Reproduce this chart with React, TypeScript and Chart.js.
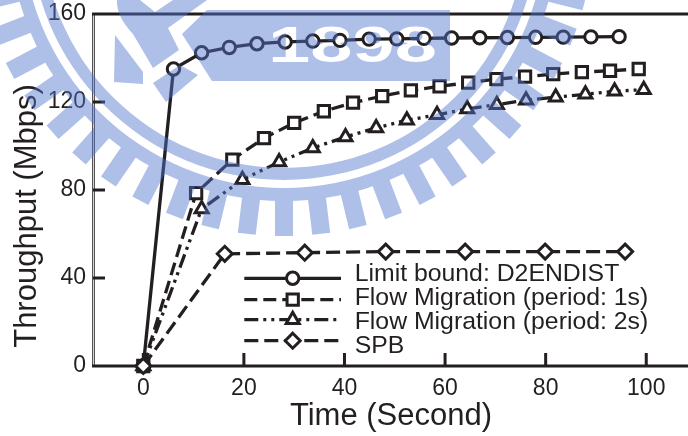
import React, { useEffect, useRef } from "react";
import { Chart, registerables } from "chart.js";

Chart.register(...registerables);

const xTickValues = [0, 20, 40, 60, 80, 100];
const yTickValues = [0, 40, 80, 120, 160];
const xTitle = "Time (Second)";
const yTitle = "Throughput (Mbps)";
const seriesNames = [
  "Limit bound: D2ENDIST",
  "Flow Migration (period: 1s)",
  "Flow Migration (period: 2s)",
  "SPB",
];

const limitX = [0, 6, 11.6, 17.1, 22.6, 28.2, 33.7, 39.1, 44.9, 50.4, 55.8, 61.3, 66.9, 72.4, 78, 83.5, 89, 94.6];
const limitY = [0, 135, 142.4, 144.8, 146.5, 147.3, 147.7, 148, 148.6, 148.7, 148.9, 149.1, 149.2, 149.3, 149.4, 149.5, 149.6, 149.7];
const flow1X = [0, 10.5, 17.7, 24, 30, 35.9, 41.7, 47.5, 53.2, 58.9, 64.6, 70.2, 75.9, 81.5, 87.2, 92.8, 98.5];
const flow1Y = [0, 78.6, 93.8, 103.6, 110.5, 115.8, 119.7, 122.7, 125.3, 127.1, 128.8, 130.4, 131.5, 132.7, 133.6, 134.2, 135];
const flow2X = [0, 11.6, 19.7, 27, 33.7, 40.2, 46.3, 52.4, 58.4, 64.4, 70.3, 76.1, 82, 87.9, 93.7, 99.5];
const flow2Y = [0, 71.4, 84.7, 92.7, 99.1, 104.1, 108.2, 111.7, 114.2, 116.8, 118.8, 120.8, 122.2, 123.5, 124.9, 125.6];
const spbX = [0, 16.2, 32.1, 48.2, 64, 79.9, 95.8];
const spbY = [0, 51, 51.5, 52, 52, 52, 52];

const INK = "#231f20";
const FONT = '"Liberation Sans", Arial, sans-serif';

const pts = (xs: number[], ys: number[]) => xs.map((x, i) => ({ x, y: ys[i] }));

function paintEmblem(ctx: CanvasRenderingContext2D) {
  const cx = 284;
  const cy = -74;
  const c = document.createElement("canvas");
  c.width = ctx.canvas.width;
  c.height = ctx.canvas.height;
  const g = c.getContext("2d")!;
  g.fillStyle = "rgb(80,115,205)";
  g.strokeStyle = "rgb(80,115,205)";

  const ring = (a: number, b: number) => {
    g.beginPath();
    g.arc(cx, cy, b, 0, Math.PI * 2);
    g.arc(cx, cy, a, 0, Math.PI * 2, true);
    g.fill();
  };
  ring(242, 254);
  ring(262, 275);

  for (let k = -17; k <= 17; k++) {
    g.save();
    g.translate(cx, cy);
    g.rotate((k * 6.9 * Math.PI) / 180);
    g.fillRect(-9, 274, 18, 36);
    g.restore();
  }

  const poly = (p: number[][]) => {
    g.beginPath();
    p.forEach(([x, y], i) => (i ? g.lineTo(x, y) : g.moveTo(x, y)));
    g.closePath();
    g.fill();
  };
  // banner
  poly([[182, 34], [207, 10], [450, 10], [450, 81], [212, 81]]);
  // shield top
  g.beginPath();
  g.moveTo(117, 0);
  g.quadraticCurveTo(116, 16, 133, 34);
  g.lineTo(153, 68);
  g.lineTo(179, 50);
  g.lineTo(168, 28);
  g.lineTo(207, 0);
  g.lineTo(173, 0);
  g.lineTo(155, 12);
  g.lineTo(140, 0);
  g.closePath();
  g.fill();
  // side pieces
  poly([[115, 35], [143, 72], [143, 84], [114, 82]]);
  poly([[153, 83], [180, 65], [198, 75], [166, 102]]);

  // white year in the banner
  g.save();
  g.globalCompositeOperation = "destination-out";
  g.fillStyle = "#000";
  g.font = `bold 50px ${FONT}`;
  g.textBaseline = "alphabetic";
  g.translate(268, 62);
  g.scale(1.52, 1);
  g.fillText("1898", 0, 0);
  g.restore();

  ctx.save();
  ctx.globalAlpha = 0.46;
  ctx.drawImage(c, 0, 0);
  ctx.restore();
}

const framePlugin = {
  id: "frame",
  beforeDatasetsDraw(chart: any) {
    const { ctx, chartArea: a, scales } = chart;
    ctx.save();
    const h = a.bottom - a.top;
    ctx.fillStyle = "#555354";
    ctx.fillRect(a.left - 1, a.top, 1, h);
    ctx.fillRect(a.left + 1, a.top, 1, h);
    ctx.fillStyle = "#d4d4d4";
    ctx.fillRect(a.left, a.top, 1, h);

    ctx.strokeStyle = INK;
    ctx.lineWidth = 3;
    ctx.beginPath();
    ctx.moveTo(a.left - 1, a.top);
    ctx.lineTo(a.right, a.top);
    ctx.moveTo(a.left - 1, a.bottom);
    ctx.lineTo(a.right, a.bottom);
    xTickValues.forEach((v) => {
      const x = scales.x.getPixelForValue(v);
      ctx.moveTo(x, a.bottom);
      ctx.lineTo(x, a.bottom - 13);
    });
    yTickValues.slice(1, -1).forEach((v) => {
      const y = scales.y.getPixelForValue(v);
      ctx.moveTo(a.left, y);
      ctx.lineTo(a.left + 12, y);
    });
    ctx.stroke();

    ctx.fillStyle = INK;
    ctx.font = `31px ${FONT}`;
    ctx.textAlign = "center";
    ctx.textBaseline = "middle";
    ctx.fillText(xTitle, 391, 416);
    ctx.translate(27, 216);
    ctx.rotate(-Math.PI / 2);
    ctx.fillText(yTitle, 0, 0);
    ctx.restore();
  },
  afterDatasetsDraw(chart: any) {
    const { ctx } = chart;
    const rowsLine = [278.3, 299.7, 319.7, 340.7];
    const rowsText = [274.5, 298.5, 322.5, 346.5];
    chart.data.datasets.forEach((d: any, i: number) => {
      ctx.save();
      ctx.strokeStyle = d.borderColor;
      ctx.lineWidth = d.borderWidth;
      ctx.setLineDash(d.borderDash || []);
      ctx.beginPath();
      ctx.moveTo(244.3, rowsLine[i]);
      ctx.lineTo(341, rowsLine[i]);
      ctx.stroke();
      ctx.setLineDash([]);
      ctx.fillStyle = "#fff";
      ctx.strokeStyle = d.pointBorderColor;
      ctx.lineWidth = d.pointBorderWidth;
      const r = d.pointRadius;
      const x = 292.7;
      const y = rowsLine[i];
      ctx.beginPath();
      if (d.pointStyle === "circle") ctx.arc(x, y, r, 0, Math.PI * 2);
      else if (d.pointStyle === "rect") {
        const s = r * Math.SQRT1_2;
        ctx.rect(x - s, y - s, 2 * s, 2 * s);
      } else if (d.pointStyle === "triangle") {
        ctx.moveTo(x, y - r);
        ctx.lineTo(x + r * 0.866, y + r / 2);
        ctx.lineTo(x - r * 0.866, y + r / 2);
        ctx.closePath();
      } else {
        ctx.moveTo(x, y - r);
        ctx.lineTo(x + r, y);
        ctx.lineTo(x, y + r);
        ctx.lineTo(x - r, y);
        ctx.closePath();
      }
      ctx.fill();
      ctx.stroke();
      ctx.fillStyle = INK;
      ctx.font = `24.8px ${FONT}`;
      ctx.textAlign = "left";
      ctx.textBaseline = "middle";
      ctx.fillText(seriesNames[i], 354.7, rowsText[i]);
      ctx.restore();
    });
  },
  afterDraw(chart: any) {
    paintEmblem(chart.ctx);
  },
};

const styleOf = (pointStyle: string, radius: number, dash: number[], order: number) => ({
  borderColor: INK,
  borderWidth: 3.3,
  borderDash: dash,
  pointStyle,
  pointRadius: radius,
  pointBorderColor: INK,
  pointBorderWidth: 3,
  pointBackgroundColor: "#ffffff",
  tension: 0,
  fill: false,
  clip: false,
  order,
});

export default function App() {
  const ref = useRef<HTMLCanvasElement>(null);
  useEffect(() => {
    const chart = new Chart(ref.current!, {
      type: "line",
      data: {
        datasets: [
          { label: seriesNames[0], data: pts(limitX, limitY), ...styleOf("circle", 6.2, [], 3) },
          { label: seriesNames[1], data: pts(flow1X, flow1Y), ...styleOf("rect", 8, [13, 6], 2) },
          { label: seriesNames[2], data: pts(flow2X, flow2Y), ...styleOf("triangle", 7.5, [14, 5, 3, 5, 3, 5], 1) },
          { label: seriesNames[3], data: pts(spbX, spbY), ...styleOf("rectRot", 7.5, [14, 6], 0) },
        ] as any,
      },
      options: {
        animation: false,
        responsive: false,
        layout: { autoPadding: false, padding: { top: 14, right: 0, left: 0, bottom: 0 } },
        plugins: { legend: { display: false }, tooltip: { enabled: false } },
        scales: {
          x: {
            type: "linear",
            min: -10,
            max: 108.3,
            grid: { display: false, drawTicks: false },
            border: { display: false },
            afterBuildTicks(s: any) {
              s.ticks = xTickValues.map((value) => ({ value }));
            },
            afterFit(s: any) {
              s.height = 70;
              s.paddingLeft = 0;
              s.paddingRight = 0;
            },
            ticks: {
              autoSkip: false,
              maxRotation: 0,
              padding: 9,
              color: INK,
              font: { family: FONT, size: 23 },
            },
          },
          y: {
            type: "linear",
            min: 0,
            max: 160,
            grid: { display: false, drawTicks: false },
            border: { display: false },
            afterBuildTicks(s: any) {
              s.ticks = yTickValues.map((value) => ({ value }));
            },
            afterFit(s: any) {
              s.width = 93;
              s.paddingTop = 0;
              s.paddingBottom = 0;
            },
            ticks: {
              autoSkip: false,
              padding: 7,
              color: INK,
              font: { family: FONT, size: 23 },
            },
          },
        },
      } as any,
      plugins: [framePlugin],
    });
    return () => chart.destroy();
  }, []);
  return (
    <canvas
      ref={ref}
      width={688}
      height={436}
      style={{ position: "absolute", left: 0, top: 0, width: 688, height: 436 }}
    />
  );
}
